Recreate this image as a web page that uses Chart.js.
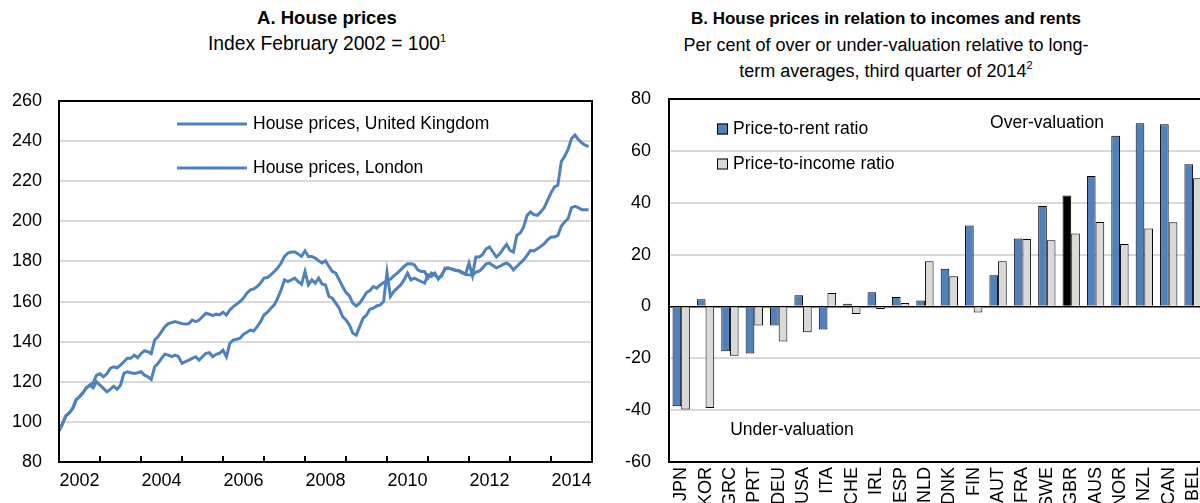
<!DOCTYPE html>
<html>
<head>
<meta charset="utf-8">
<script src="https://cdn.jsdelivr.net/npm/chart.js@4.4.0/dist/chart.umd.min.js"></script>
<style>
  html, body { margin: 0; padding: 0; background: #fff; overflow: hidden; }
  #wrap { position: relative; width: 1200px; height: 503px; overflow: hidden; }
  canvas { position: absolute; top: 0; }
  .head { position: absolute; text-align: center; font-family: "Liberation Sans", Arial, sans-serif;
          color: #000; white-space: nowrap; }
  .head sup { font-size: 11px; line-height: 0; position: relative; top: -1px; }
  #headA { left: 127px; width: 400px; top: 5px; font-size: 19.3px; line-height: 26px; }
  #headA b { font-size: 18.5px; }
  #headB { left: 636px; width: 500px; top: 5px; font-size: 18px; line-height: 26px; }
  #headB b { font-size: 17px; }
</style>
</head>
<body>
<div id="wrap">
  <div class="head" id="headA"><b>A. House prices</b><br>Index February 2002 = 100<sup>1</sup></div>
  <div class="head" id="headB"><b>B. House prices in relation to incomes and rents</b><br>Per cent of over or under-valuation relative to long-<br>term averages, third quarter of 2014<sup>2</sup></div>
  <canvas id="left" width="600" height="503" style="left:0;"></canvas>
  <canvas id="right" width="620" height="503" style="left:600px;"></canvas>
</div>
<script>
// Panel A: monthly index, Jan 2002 - Dec 2014 (Feb 2002 = 100)
const firstYear = 2002;
const lastYear = 2014;

const ukPrices = [
  95.5, 99, 103, 104.5, 106.7, 111, 112.5, 114.5, 117, 118.3, 119.5, 123.3,
  124, 122.5, 124, 126.7, 127.5, 127, 128.3, 130, 131.7, 131.7, 133.3, 132,
  134, 135.5, 135, 134, 140.8, 142.5, 145, 147.5, 149, 149.5, 150, 149.5,
  149, 148.8, 149, 150.8, 150, 150.8, 152.5, 154.2, 153.7, 153, 153.7, 153.3,
  154.7, 153.3, 155.8, 157.5, 158.7, 160, 161.7, 164.2, 165.8, 166.3, 167.5, 169.2,
  171.7, 172, 173.3, 175, 176.7, 179.2, 182.5, 184.2, 184.7, 184.7, 183.7, 182.5,
  185.3, 182.5, 182.5, 181.7, 180.3, 179.2, 180.3, 177.5, 175, 174.2, 170.8, 167.5,
  164.5, 162.8, 159.2, 157.8, 159.2, 161.7, 164.5, 165.5, 167.5, 166.7, 168.3, 169.5,
  170.5, 171.2, 172.8, 174.2, 175.8, 177.5, 178.8, 178.8, 178.3, 175.8, 175, 175,
  171.7, 174.2, 173.3, 171.7, 172.8, 176.7, 176.7, 176.2, 175.8, 175.5, 174.7, 173.5,
  173.3, 173, 174.7, 175.2, 176.8, 178.8, 179.2, 178, 176.8, 177.5, 178.5, 179.2,
  178, 175.8, 177.5, 179.2, 180.8, 183, 185.5, 185.2, 186.3, 187.5, 188.8, 190.8,
  192.2, 192.2, 193, 197.5, 199.7, 201.3, 206.8, 207.5, 206.8, 205.8, 205.8, 205.8
];

const londonPrices = [
  95.5, 99, 103, 104.5, 106.7, 111, 112.5, 114.5, 117, 118.3, 117, 120,
  118.3, 116.7, 115, 116.2, 117.8, 116.2, 118.3, 124.2, 125, 124.5, 124.2, 124.5,
  125, 123.3, 122.5, 121.2, 127.5, 129.2, 131.7, 133.8, 133.3, 132.5, 133.3, 132.5,
  129.2, 130, 130.8, 131.7, 132.5, 130.8, 132.5, 134.2, 134.5, 132.5, 133.7, 134.2,
  135.8, 132.5, 139.2, 140.8, 141.2, 141.7, 143.7, 144.7, 145.8, 145.3, 147.5, 150,
  153.3, 154.7, 156.7, 158.3, 161.7, 165.8, 170.8, 170, 170.8, 171.7, 170, 168.7,
  175, 168.3, 170.8, 169.2, 171.7, 168.7, 168.3, 162.5, 161.7, 159.2, 156.7, 152.5,
  150.8, 148.3, 144.2, 143.3, 147.5, 151.7, 153.3, 156.2, 156.7, 157.8, 158.3, 160,
  174.5, 162.5, 165, 166.7, 168.3, 170.8, 174.2, 170.8, 171.7, 170.8, 170, 169.2,
  173.3, 172.5, 174.2, 171.2, 173.3, 176.2, 176.7, 176.2, 175.5, 175.2, 174.2, 173.8,
  179.2, 173, 182.2, 182.2, 183.5, 186.3, 187.2, 184.7, 182.2, 183.8, 186.3, 188.5,
  185.5, 184.7, 193, 194.2, 197.2, 203, 204.7, 203.3, 203, 204.7, 206.8, 210.5,
  214.2, 217.2, 218, 229.7, 232.5, 235.8, 241.3, 243, 240.8, 239.2, 238, 237.2
];

// Panel B: third quarter of 2014
const countries = ['JPN', 'KOR', 'GRC', 'PRT', 'DEU', 'USA', 'ITA', 'CHE', 'IRL', 'ESP', 'NLD',
  'DNK', 'FIN', 'AUT', 'FRA', 'SWE', 'GBR', 'AUS', 'NOR', 'NZL', 'CAN', 'BEL'];
const priceToRent = [-38.5, 2.8, -17.3, -18.2, -7.4, 4.3, -8.9, 1.0, 5.5, 3.6, 2.3,
  14.5, 31.2, 12.0, 26.2, 38.7, 42.8, 50.3, 65.8, 70.6, 70.3, 54.8];
const priceToIncome = [-39.8, -39.2, -19.0, -7.4, -13.5, -10.0, 5.2, -2.9, -1.0, 1.3, 17.4,
  11.6, -2.3, 17.4, 26.0, 25.5, 28.1, 32.6, 24.1, 30.1, 32.5, 49.4];

// month labels, Jan 2002 .. Jan 2015 (axis runs to the start of 2015)
const months = [];
for (let y = firstYear; y <= lastYear + 1; y++) {
  for (let m = 1; m <= 12; m++) {
    months.push(y + '-' + String(m).padStart(2, '0'));
    if (y > lastYear) break;
  }
}

const BLUE = '#4f81bd';
const GREY = '#d9d9d9';
const FONT = '"Liberation Sans", Arial, sans-serif';
Chart.defaults.font.family = FONT;
Chart.defaults.color = '#000';

// box round the plot area, plus inward year ticks on panel A
const framePlugin = {
  id: 'frame',
  afterDatasetsDraw(chart, args, opts) {
    const { ctx, chartArea: a } = chart;
    ctx.save();
    ctx.strokeStyle = '#000';
    ctx.lineWidth = 2;
    ctx.strokeRect(a.left, a.top, a.right - a.left, a.bottom - a.top);
    if (opts.yearTicks) {
      const x = chart.scales.x;
      for (let i = 12; i < months.length - 1; i += 12) {
        const px = x.getPixelForValue(i);
        ctx.beginPath();
        ctx.moveTo(px, a.bottom);
        ctx.lineTo(px, a.bottom - 6);
        ctx.stroke();
      }
    }
    ctx.restore();
  }
};

// hand-placed legends and notes
const notesPlugin = {
  id: 'notes',
  afterDraw(chart, args, opts) {
    const { ctx, chartArea: a } = chart;
    ctx.save();
    ctx.font = '17.5px ' + FONT;
    ctx.fillStyle = '#000';
    ctx.textBaseline = 'middle';
    (opts.items || []).forEach(it => {
      const x = a.left + it.dx, y = a.top + it.dy;
      if (it.line) {
        ctx.strokeStyle = it.line;
        ctx.lineWidth = 3;
        ctx.beginPath();
        ctx.moveTo(x, y);
        ctx.lineTo(x + 70, y);
        ctx.stroke();
        ctx.fillStyle = '#000';
        ctx.textAlign = 'left';
        ctx.fillText(it.text, x + 76, y);
      } else if (it.box) {
        ctx.fillStyle = it.box;
        ctx.fillRect(x, y - 5.5, 11, 11);
        ctx.strokeStyle = '#000';
        ctx.lineWidth = 1;
        ctx.strokeRect(x + 0.5, y - 5, 10, 10);
        ctx.fillStyle = '#000';
        ctx.textAlign = 'left';
        ctx.fillText(it.text, x + 16, y);
      } else {
        ctx.textAlign = 'center';
        ctx.fillText(it.text, x, y);
      }
    });
    ctx.restore();
  }
};

const tickFont = { size: 18, family: FONT };

new Chart(document.getElementById('left'), {
  type: 'line',
  data: {
    labels: months,
    datasets: [
      { label: 'House prices, United Kingdom', data: ukPrices, borderColor: BLUE, borderWidth: 3,
        pointRadius: 0, tension: 0, fill: false },
      { label: 'House prices, London', data: londonPrices, borderColor: BLUE, borderWidth: 3,
        pointRadius: 0, tension: 0, fill: false }
    ]
  },
  options: {
    responsive: false,
    animation: false,
    layout: { padding: { top: 101, right: 4, left: 0, bottom: 0 } },
    plugins: {
      legend: { display: false },
      tooltip: { enabled: false },
      frame: { yearTicks: true },
      notes: {
        items: [
          { line: BLUE, text: 'House prices, United Kingdom', dx: 118, dy: 23 },
          { line: BLUE, text: 'House prices, London', dx: 118, dy: 67 }
        ]
      }
    },
    scales: {
      x: {
        offset: false,
        grid: { display: false, drawTicks: false },
        border: { display: false },
        ticks: {
          autoSkip: false, maxRotation: 0, padding: 8, font: tickFont,
          callback: (v, i) => (i % 24 === 6) ? months[i].slice(0, 4) : ''
        },
        afterFit: s => { s.height = 41; }
      },
      y: {
        min: 80, max: 260,
        ticks: { stepSize: 20, padding: 17, font: tickFont },
        grid: { color: GREY, lineWidth: 2, drawTicks: false },
        border: { display: false },
        afterFit: s => { s.width = 59; }
      }
    }
  },
  plugins: [framePlugin, notesPlugin]
});

new Chart(document.getElementById('right'), {
  type: 'bar',
  data: {
    labels: countries,
    datasets: [
      { label: 'Price-to-rent ratio', data: priceToRent,
        backgroundColor: c => countries[c.dataIndex] === 'GBR' ? '#000' : BLUE,
        borderColor: '#000', borderWidth: 1 },
      { label: 'Price-to-income ratio', data: priceToIncome,
        backgroundColor: GREY, borderColor: '#000', borderWidth: 1 }
    ]
  },
  options: {
    responsive: false,
    animation: false,
    layout: { padding: { top: 99, right: 14, left: 0, bottom: 0 } },
    datasets: { bar: { categoryPercentage: 0.71, barPercentage: 1 } },
    plugins: {
      legend: { display: false },
      tooltip: { enabled: false },
      frame: {},
      notes: {
        items: [
          { box: BLUE, text: 'Price-to-rent ratio', dx: 48, dy: 30 },
          { box: GREY, text: 'Price-to-income ratio', dx: 48, dy: 65 },
          { text: 'Over-valuation', dx: 378, dy: 24 },
          { text: 'Under-valuation', dx: 123, dy: 331 }
        ]
      }
    },
    scales: {
      x: {
        grid: { display: false, drawTicks: false },
        border: { display: false },
        ticks: { autoSkip: false, minRotation: 90, maxRotation: 90, padding: 5, font: tickFont },
        afterFit: s => { s.height = 41; }
      },
      y: {
        min: -60, max: 80,
        ticks: { stepSize: 20, padding: 18, font: tickFont },
        grid: {
          color: c => c.tick.value === 0 ? '#000' : GREY,
          lineWidth: c => c.tick.value === 0 ? 1.5 : 2,
          drawTicks: false
        },
        border: { display: false },
        afterFit: s => { s.width = 69; }
      }
    }
  },
  plugins: [framePlugin, notesPlugin]
});
</script>
</body>
</html>
